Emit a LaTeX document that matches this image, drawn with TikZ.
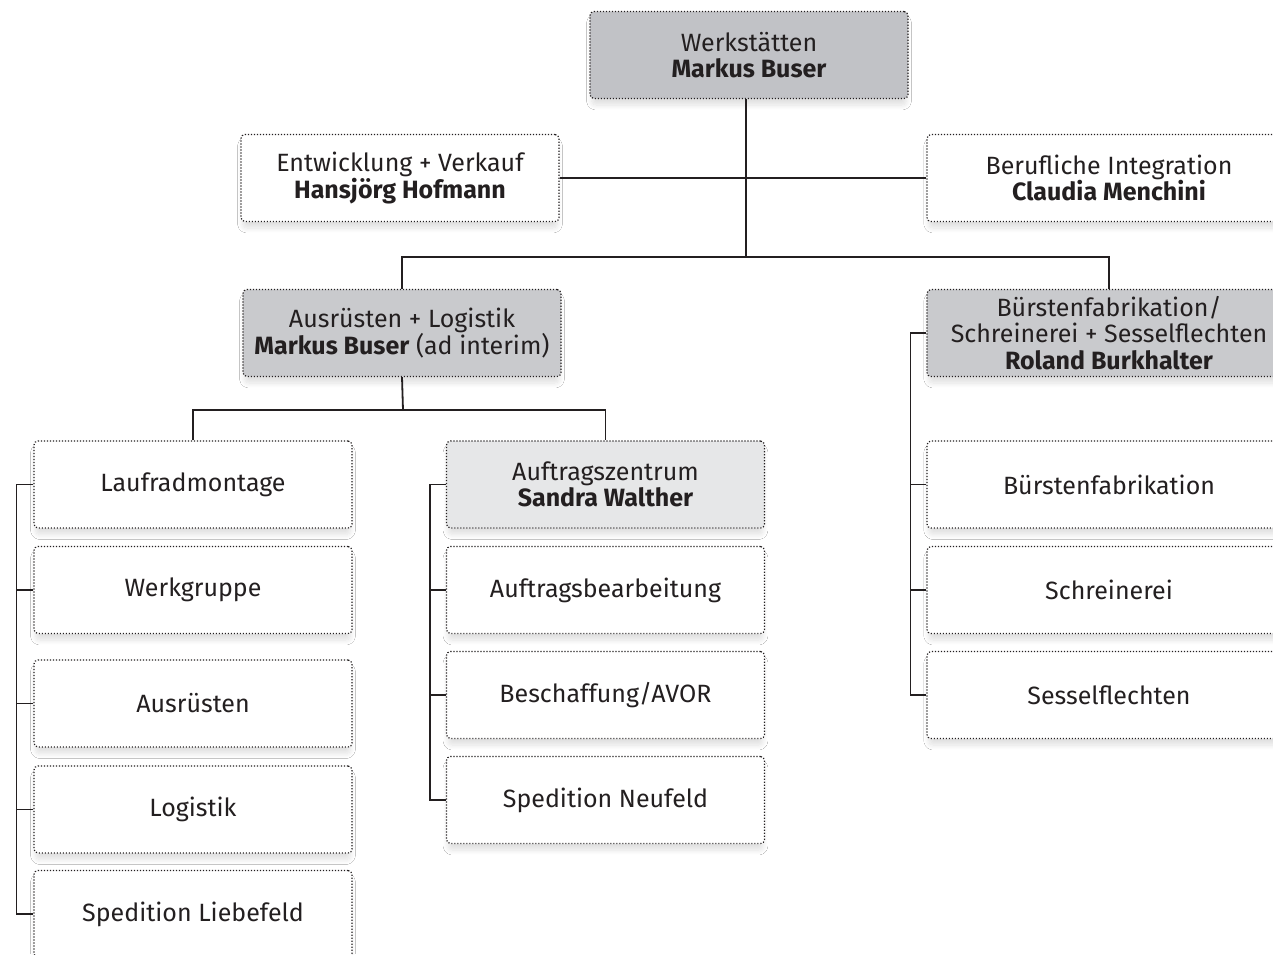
\documentclass[tikz,border=0pt]{standalone}
\usepackage{fontspec}
\setmainfont{Fira Sans}
\usetikzlibrary{shadows.blur}
\definecolor{txt}{RGB}{35,31,32}
\definecolor{gA}{RGB}{193,194,198}
\definecolor{gB}{RGB}{201,202,205}
\definecolor{gC}{RGB}{230,231,232}
\tikzset{
  box/.style={draw=txt, line width=1.2pt, dash pattern=on 1.2pt off 1.8pt, rounded corners=4pt,
    minimum width=318pt, minimum height=87pt, align=center, inner sep=0pt, text=txt, fill=white,
    font=\fontsize{25}{26.5}\selectfont,
    blur shadow={shadow xshift=0pt, shadow yshift=-7pt, shadow blur radius=5pt, shadow blur steps=8, shadow opacity=12, shadow scale=0.99}},
  wbox/.style={box, minimum width=364pt},
  conn/.style={draw=txt, line width=1.8pt}
}
\begin{document}
\begin{tikzpicture}[x=1pt,y=-1pt]
\clip (0,0) rectangle (1273,954);
\fill[white] (0,0) rectangle (1273,954);
% top
\node[box, fill=gA] (werk) at (749,55) {Werkstätten\\\textbf{Markus Buser}};
\node[box] (entw) at (400,178) {Entwicklung + Verkauf\\\textbf{Hansjörg Hofmann}};
\node[wbox] (beruf) at (1109,178) {Berufliche Integration\\\textbf{Claudia Menchini}};
% level 2
\node[box, fill=gB] (ausl) at (402,333) {Ausrüsten + Logistik\\\textbf{Markus Buser} (ad interim)};
\node[wbox, fill=gB] (buer) at (1109,333) {Bürstenfabrikation/\\Schreinerei + Sesselflechten\\\textbf{Roland Burkhalter}};
% left column
\node[box] (lauf) at (193,484.5) {Laufradmontage};
\node[box] (werkg) at (193,590) {Werkgruppe};
\node[box] (ausr) at (193,703.5) {Ausrüsten};
\node[box] (logi) at (193,809.5) {Logistik};
\node[box] (spedl) at (193,914) {Spedition Liebefeld};
% middle column
\node[box, fill=gC] (auft) at (605.5,484.5) {Auftragszentrum\\\textbf{Sandra Walther}};
\node[box] (auftb) at (605.5,590) {Auftragsbearbeitung};
\node[box] (besch) at (605.5,695) {Beschaffung/AVOR};
\node[box] (spedn) at (605.5,800) {Spedition Neufeld};
% right column
\node[wbox] (buerf) at (1109,484.5) {Bürstenfabrikation};
\node[wbox] (schr) at (1109,590) {Schreinerei};
\node[wbox] (sess) at (1109,695) {Sesselflechten};
% connectors
\coordinate (j1) at (746,257);
\draw[conn] (werk.south -| j1) -- (j1);
\draw[conn] (entw.east) -- (beruf.west);
\draw[conn] (ausl.north) |- (j1) -| (buer.north);
\coordinate (j2) at (403,410);
\draw[conn] (ausl.south) -- (j2);
\draw[conn] (lauf.north) |- (j2) -| (auft.north);
% left bracket
\draw[conn] (lauf.west) -- ++(-17,0) coordinate (lb) |- (spedl.west);
\foreach \n in {werkg,ausr,logi} \draw[conn] (\n.west) -- (\n.west -| lb);
% middle bracket
\draw[conn] (auft.west) -- ++(-16,0) coordinate (mb) |- (spedn.west);
\foreach \n in {auftb,besch} \draw[conn] (\n.west) -- (\n.west -| mb);
% right bracket
\draw[conn] (buer.west) -- ++(-16,0) coordinate (rb) |- (sess.west);
\foreach \n in {buerf,schr} \draw[conn] (\n.west) -- (\n.west -| rb);
\end{tikzpicture}
\end{document}
